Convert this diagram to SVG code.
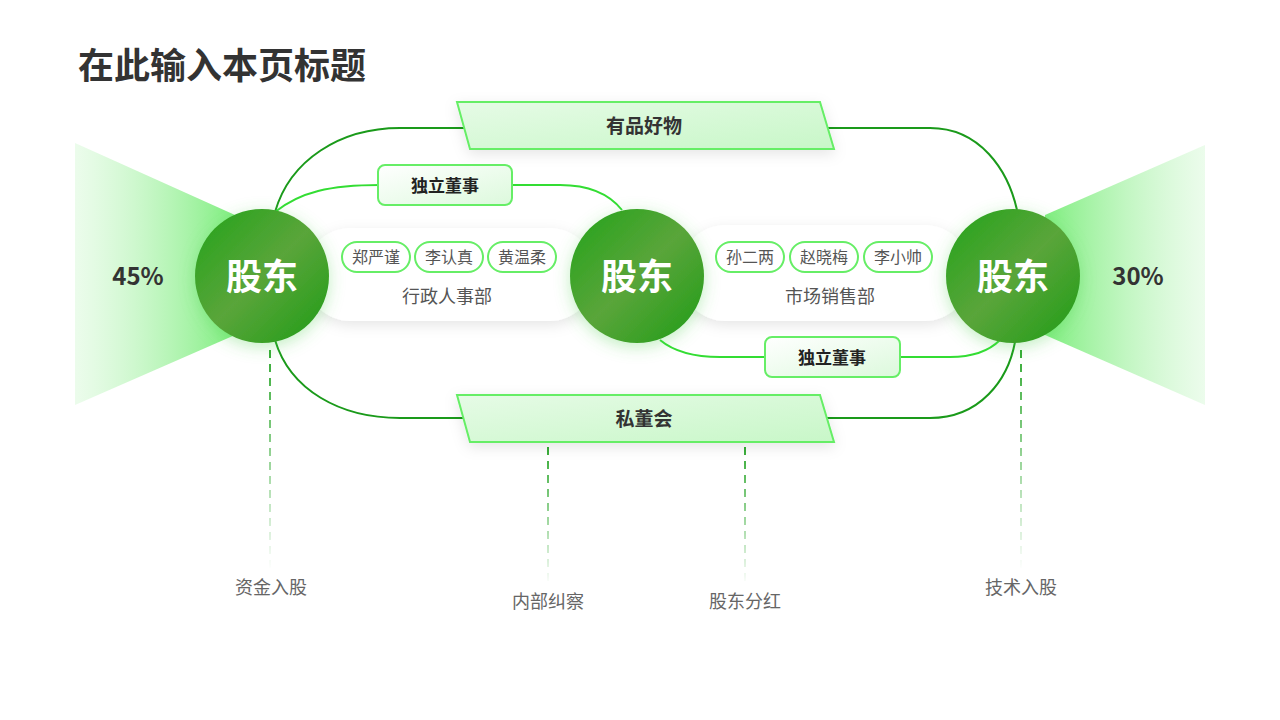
<svg xmlns="http://www.w3.org/2000/svg" width="1280" height="720" viewBox="0 0 1280 720">
<defs>
<style>
text{font-family:"Noto Sans CJK SC","Noto Sans",sans-serif;text-anchor:middle}
.title{font-size:36px;font-weight:bold;fill:#333;text-anchor:start}
.big{font-size:36px;font-weight:bold;fill:#fff}
.pct{font-size:24px;font-weight:bold;fill:#333}
.bl{font-size:19px;font-weight:bold;fill:#333}
.chip{fill:#fff;stroke:#66ee66;stroke-width:2}
.ct{font-size:16px;fill:#555}
.dept{font-size:18px;fill:#555}
.lab{font-size:18px;fill:#666}
.dash{stroke-width:2;stroke-dasharray:8 6}
</style>
<linearGradient id="circ" x1="0" y1="0" x2="1" y2="1"><stop offset="0" stop-color="#22a31a"/><stop offset="0.5" stop-color="#5aa53a"/><stop offset="1" stop-color="#1e9c16"/></linearGradient>
<linearGradient id="tl" x1="0" y1="0" x2="1" y2="0"><stop offset="0" stop-color="#bff5bf" stop-opacity="0.3"/><stop offset="1" stop-color="#80ee80"/></linearGradient>
<linearGradient id="tr" x1="1" y1="0" x2="0" y2="0"><stop offset="0" stop-color="#bff5bf" stop-opacity="0.3"/><stop offset="1" stop-color="#80ee80"/></linearGradient>
<linearGradient id="ban" x1="0" y1="0" x2="1" y2="1"><stop offset="0" stop-color="#e6fbe6"/><stop offset="1" stop-color="#c8f7c8"/></linearGradient>
<linearGradient id="box" x1="0" y1="0" x2="1" y2="1"><stop offset="0" stop-color="#ffffff"/><stop offset="1" stop-color="#dcf9dc"/></linearGradient>
<linearGradient id="dg1" gradientUnits="userSpaceOnUse" x1="0" y1="350" x2="0" y2="570"><stop offset="0" stop-color="#33aa33"/><stop offset="1" stop-color="#33aa33" stop-opacity="0"/></linearGradient>
<linearGradient id="dg2" gradientUnits="userSpaceOnUse" x1="0" y1="447" x2="0" y2="585"><stop offset="0" stop-color="#33aa33"/><stop offset="1" stop-color="#33aa33" stop-opacity="0"/></linearGradient>
<filter id="sh" x="-30%" y="-30%" width="160%" height="160%"><feDropShadow dx="0" dy="4" stdDeviation="8" flood-color="#4fd04f" flood-opacity="0.35"/></filter>
<filter id="sh2" x="-20%" y="-40%" width="140%" height="180%"><feDropShadow dx="0" dy="4" stdDeviation="7" flood-color="#000" flood-opacity="0.1"/></filter>
</defs>
<rect width="1280" height="720" fill="#fff"/>
<text class="title" x="78" y="79">在此输入本页标题</text>
<polygon points="75,143 235,215 235,335 75,405" fill="url(#tl)"/>
<polygon points="1205,145 1045,215 1045,335 1205,405" fill="url(#tr)"/>
<g id="connectors" fill="none">
<path d="M275 212 C290 160 340 128 400 128 L930 128 C980 128 1008 170 1017 210" stroke="#1a9a1a" stroke-width="2"/>
<path d="M275 340 C290 390 340 418 400 418 L930 418 C980 418 1008 380 1015 342" stroke="#1a9a1a" stroke-width="2"/>
<path d="M275 212 C300 192 330 185 380 185 L560 185 C590 185 610 195 622 210" stroke="#33dd33" stroke-width="2"/>
<path d="M660 340 C672 350 690 357 720 357 L950 357 C975 357 990 350 1000 340" stroke="#33dd33" stroke-width="2"/>
<line class="dash" x1="270" y1="350" x2="270" y2="570" stroke="url(#dg1)"/>
<line class="dash" x1="548" y1="447" x2="548" y2="585" stroke="url(#dg2)"/>
<line class="dash" x1="745" y1="447" x2="745" y2="585" stroke="url(#dg2)"/>
<line class="dash" x1="1021" y1="350" x2="1021" y2="570" stroke="url(#dg1)"/>
</g>
<g id="dept1"><rect x="305" y="228" width="290" height="93" rx="46" fill="#fff" filter="url(#sh2)"/>
<rect class="chip" x="342" y="242" width="68" height="30" rx="15"/><text class="ct" x="376" y="263">郑严谨</text>
<rect class="chip" x="415" y="242" width="68" height="30" rx="15"/><text class="ct" x="449" y="263">李认真</text>
<rect class="chip" x="488" y="242" width="68" height="30" rx="15"/><text class="ct" x="522" y="263">黄温柔</text>
<text class="dept" x="447" y="303">行政人事部</text></g>
<g id="dept2"><rect x="680" y="225" width="290" height="96" rx="46" fill="#fff" filter="url(#sh2)"/>
<rect class="chip" x="716" y="242" width="68" height="30" rx="15"/><text class="ct" x="750" y="263">孙二两</text>
<rect class="chip" x="790" y="242" width="68" height="30" rx="15"/><text class="ct" x="824" y="263">赵晓梅</text>
<rect class="chip" x="864" y="242" width="68" height="30" rx="15"/><text class="ct" x="898" y="263">李小帅</text>
<text class="dept" x="830" y="303">市场销售部</text></g>
<g id="banner1"><polygon points="457,102 820,102 834,149 470,149" fill="url(#ban)" stroke="#66ee66" stroke-width="2" filter="url(#sh2)"/><text class="bl" x="644" y="133">有品好物</text></g>
<g id="banner2"><polygon points="457,395 820,395 834,442 470,442" fill="url(#ban)" stroke="#66ee66" stroke-width="2" filter="url(#sh2)"/><text class="bl" x="644" y="426">私董会</text></g>
<g id="ind1"><rect x="378" y="165" width="134" height="40" rx="7" fill="url(#box)" stroke="#66ee66" stroke-width="2"/><text class="bl" x="445" y="192" style="font-size:17px;fill:#222">独立董事</text></g>
<g id="ind2"><rect x="765" y="337" width="135" height="40" rx="7" fill="url(#box)" stroke="#66ee66" stroke-width="2"/><text class="bl" x="832" y="364" style="font-size:17px;fill:#222">独立董事</text></g>
<g id="c1"><circle cx="262" cy="276" r="67" fill="url(#circ)" filter="url(#sh)"/><text class="big" x="262" y="290">股东</text></g>
<g id="c2"><circle cx="637" cy="276" r="67" fill="url(#circ)" filter="url(#sh)"/><text class="big" x="637" y="290">股东</text></g>
<g id="c3"><circle cx="1013" cy="276" r="67" fill="url(#circ)" filter="url(#sh)"/><text class="big" x="1013" y="290">股东</text></g>
<text class="pct" x="138" y="285">45%</text>
<text class="pct" x="1138" y="285">30%</text>
<text class="lab" x="271" y="594">资金入股</text>
<text class="lab" x="548" y="608">内部纠察</text>
<text class="lab" x="745" y="608">股东分红</text>
<text class="lab" x="1021" y="594">技术入股</text>
</svg>
